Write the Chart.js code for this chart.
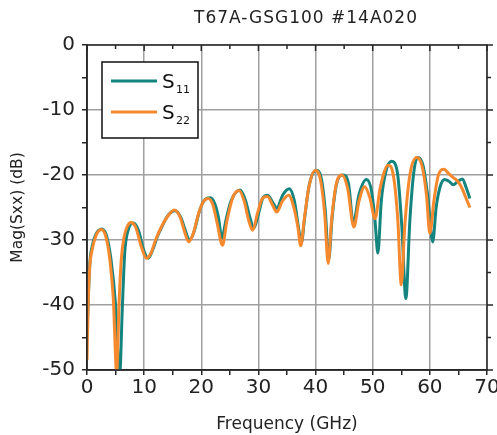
<!DOCTYPE html>
<html>
<head>
<meta charset="utf-8">
<script src="https://cdn.jsdelivr.net/npm/chart.js@4.4.1/dist/chart.umd.min.js"></script>
<style>
  html, body { margin: 0; padding: 0; background: #fff; }
</style>
</head>
<body>
<canvas id="chart" width="497" height="435"></canvas>
<script>
const chartTitle = "T67A-GSG100 #14A020";
const seriesSubs = ["11", "22"];
const seriesColors = ["#14847f", "#f6892e"];

// S11 (teal)
const s11Freq = [0, 0.2, 0.5, 0.9, 1.5, 2.6, 3.4, 4.2, 5.0, 5.7, 6.2, 6.6, 7.2, 8.1, 9.0, 9.9, 10.7,
  11.5, 12.3, 13.2, 14.2, 15.4, 16.4, 17.2, 17.9, 18.7, 19.7, 20.6, 21.6, 22.4, 23.0, 23.6, 24.3,
  25.2, 26.8, 27.7, 28.5, 29.2, 30.0, 30.8, 31.6, 32.5, 33.2, 34.3, 35.4, 36.3, 37.0, 37.5, 38.1,
  38.9, 40.1, 41.0, 41.7, 42.3, 42.9, 43.7, 44.8, 45.8, 46.6, 47.6, 48.9, 49.8, 50.4, 50.9, 51.5,
  52.3, 53.3, 54.3, 55.1, 55.8, 56.5, 57.2, 57.9, 58.8, 59.6, 60.5, 61.1, 61.8, 62.6, 63.4, 64.1,
  64.9, 65.7, 66.3, 67.0];
const s11Mag = [-45, -39.5, -33.5, -31, -29.2, -28.3, -29.3, -33, -40, -51, -40, -32, -28.5, -27.4, -28.5, -31.5, -32.8,
  -31.5, -29.5, -27.8, -26.2, -25.5, -26.5, -28.5, -30, -28.8, -25.5, -23.8, -23.5, -24.5, -26.5, -29.7, -27,
  -24, -22.3, -23.8, -26.5, -28.2, -26, -23.5, -23.1, -24.2, -25.1, -23, -22.1, -24, -28, -30.5, -26.5,
  -21.5, -19.3, -20.5, -25.5, -33, -26.5, -21.3, -20.0, -21.5, -27.4, -23, -20.7, -22.5, -27, -32, -24,
  -19.5, -17.9, -19.5, -28, -39, -27, -19.5, -17.3, -18.5, -23, -30.3, -25, -21.8, -20.7, -21.0, -21.5,
  -21, -20.6, -21.8, -23.6];

// S22 (orange)
const s22Freq = [0, 0.2, 0.5, 0.9, 1.5, 2.5, 3.3, 4.0, 4.6, 5.2, 5.6, 6.0, 6.5, 7.0, 7.7, 8.5, 9.5,
  10.4, 11.2, 12.0, 13.0, 14.0, 15.3, 16.3, 17.0, 17.8, 18.6, 19.5, 20.3, 21.2, 22.0, 22.8, 23.7,
  24.5, 25.5, 26.6, 27.5, 28.3, 29.0, 29.8, 30.7, 31.6, 32.4, 33.2, 34.2, 35.3, 36.2, 36.9, 37.4,
  38.0, 38.8, 39.9, 40.8, 41.6, 42.2, 42.8, 43.6, 44.6, 45.6, 46.7, 47.6, 48.6, 49.5, 50.4, 51.3,
  52.7, 53.6, 54.4, 55.0, 55.6, 56.5, 57.7, 58.6, 59.4, 60.0, 60.7, 61.5, 62.5, 63.3, 64.1, 64.9,
  65.6, 66.3, 67.0];
const s22Mag = [-48.5, -40, -34, -31.5, -29.5, -28.4, -29.5, -33, -39, -50.5, -40, -33, -29.5, -28, -27.3, -28, -31,
  -32.8, -32, -30, -28, -26.5, -25.4, -26.5, -28.5, -30.3, -29, -26, -24.2, -23.6, -24.5, -27.5, -30.8,
  -27, -23.5, -22.4, -24, -27, -28.5, -26, -23.6, -23.3, -24.5, -25.7, -24, -23.1, -25, -28, -30.9,
  -27, -22, -19.3, -20.5, -26, -33.6, -27, -21.5, -20.0, -22, -28, -24, -21.8, -23.5, -26.7, -22,
  -18.5, -20, -27, -36.9, -28, -20, -17.3, -18.5, -23, -29, -24, -20, -19.1, -19.8, -20.4, -21,
  -22, -23.5, -25];

const xTickStep = 5;
const yTickStep = 5;

const toPoints = (xs, ys) => xs.map((x, i) => ({ x: x, y: ys[i] }));

const FONT = "'DejaVu Sans', Verdana, sans-serif";
const gridColor = "#a0a0a0";
const axisColor = "#262626";

// frame, mirror ticks, legend box and title
const framePlugin = {
  id: "frame",
  afterDatasetsDraw(chart) {
    const { ctx, chartArea: a, scales } = chart;
    ctx.save();
    ctx.strokeStyle = axisColor;
    ctx.lineWidth = 1.5;
    ctx.strokeRect(a.left, a.top, a.right - a.left, a.bottom - a.top);

    scales.x.ticks.forEach(t => {
      const px = scales.x.getPixelForValue(t.value);
      const len = t.value % 10 === 0 ? 6 : 4;
      ctx.beginPath(); ctx.moveTo(px, a.top); ctx.lineTo(px, a.top + len); ctx.stroke();
    });
    scales.y.ticks.forEach(t => {
      const py = scales.y.getPixelForValue(t.value);
      const len = t.value % 10 === 0 ? 6 : 4;
      ctx.beginPath(); ctx.moveTo(a.right, py); ctx.lineTo(a.right + len, py); ctx.stroke();
    });

    // legend
    const bx = a.left + 15, by = a.top + 17, bw = 96, bh = 76;
    ctx.fillStyle = "#fff";
    ctx.fillRect(bx, by, bw, bh);
    ctx.strokeStyle = "#111";
    ctx.lineWidth = 1.5;
    ctx.strokeRect(bx, by, bw, bh);
    chart.data.datasets.forEach((ds, i) => {
      const ly = by + 19 + i * 31;
      ctx.strokeStyle = ds.borderColor;
      ctx.lineWidth = 3;
      ctx.beginPath(); ctx.moveTo(bx + 9, ly); ctx.lineTo(bx + 55, ly); ctx.stroke();
      ctx.fillStyle = "#111";
      ctx.textBaseline = "alphabetic";
      ctx.textAlign = "left";
      ctx.font = "20px " + FONT;
      ctx.fillText("S", bx + 60, ly + 7);
      ctx.font = "11px " + FONT;
      ctx.fillText(seriesSubs[i], bx + 74, ly + 12);
    });

    // title
    ctx.fillStyle = "#222";
    ctx.font = "17px " + FONT;
    ctx.textAlign = "center";
    ctx.textBaseline = "middle";
    if ("letterSpacing" in ctx) ctx.letterSpacing = "1px";
    ctx.fillText(chartTitle, (a.left + a.right) / 2 + 19, 19);
    ctx.restore();
  }
};

new Chart(document.getElementById("chart").getContext("2d"), {
  type: "line",
  data: {
    datasets: [
      {
        label: "S" + seriesSubs[0],
        data: toPoints(s11Freq, s11Mag),
        borderColor: seriesColors[0],
        borderWidth: 3,
        pointRadius: 0,
        cubicInterpolationMode: "monotone",
        order: 1
      },
      {
        label: "S" + seriesSubs[1],
        data: toPoints(s22Freq, s22Mag),
        borderColor: seriesColors[1],
        borderWidth: 3,
        pointRadius: 0,
        cubicInterpolationMode: "monotone",
        order: 0
      }
    ]
  },
  options: {
    responsive: false,
    animation: false,
    devicePixelRatio: 1,
    layout: { padding: { top: 45, right: 10, left: 0, bottom: 0 } },
    plugins: {
      legend: { display: false },
      title: { display: false },
      tooltip: { enabled: false }
    },
    scales: {
      x: {
        type: "linear",
        min: 0,
        max: 70,
        afterFit: s => { s.height = 65; s.paddingLeft = 0; s.paddingRight = 0; },
        ticks: {
          stepSize: xTickStep,
          autoSkip: false,
          maxRotation: 0,
          padding: 1,
          color: "#222",
          font: { family: FONT, size: 20 },
          callback: v => (v % 10 === 0 ? v : "")
        },
        grid: {
          color: c => (c.tick && c.tick.value % 10 === 0 ? gridColor : "rgba(0,0,0,0)"),
          lineWidth: 1.5,
          tickColor: axisColor,
          tickLength: 5
        },
        border: { display: true, color: axisColor, width: 1.5 },
        title: {
          display: true,
          text: "Frequency (GHz)",
          color: "#222",
          font: { family: FONT, size: 17 },
          padding: { top: 3, bottom: 0 }
        }
      },
      y: {
        min: -50,
        max: 0,
        afterFit: s => { s.width = 87; s.paddingTop = 0; s.paddingBottom = 0; },
        ticks: {
          stepSize: yTickStep,
          autoSkip: false,
          padding: 7,
          color: "#222",
          font: { family: FONT, size: 20 },
          callback: v => (v % 10 === 0 ? v : "")
        },
        grid: {
          color: c => (c.tick && c.tick.value % 10 === 0 ? gridColor : "rgba(0,0,0,0)"),
          lineWidth: 1.5,
          tickColor: axisColor,
          tickLength: 5
        },
        border: { display: true, color: axisColor, width: 1.5 },
        title: {
          display: true,
          text: "Mag(Sxx) (dB)",
          color: "#222",
          font: { family: FONT, size: 15.5 },
          padding: { top: 9, bottom: 0 }
        }
      }
    }
  },
  plugins: [framePlugin]
});
</script>
</body>
</html>
